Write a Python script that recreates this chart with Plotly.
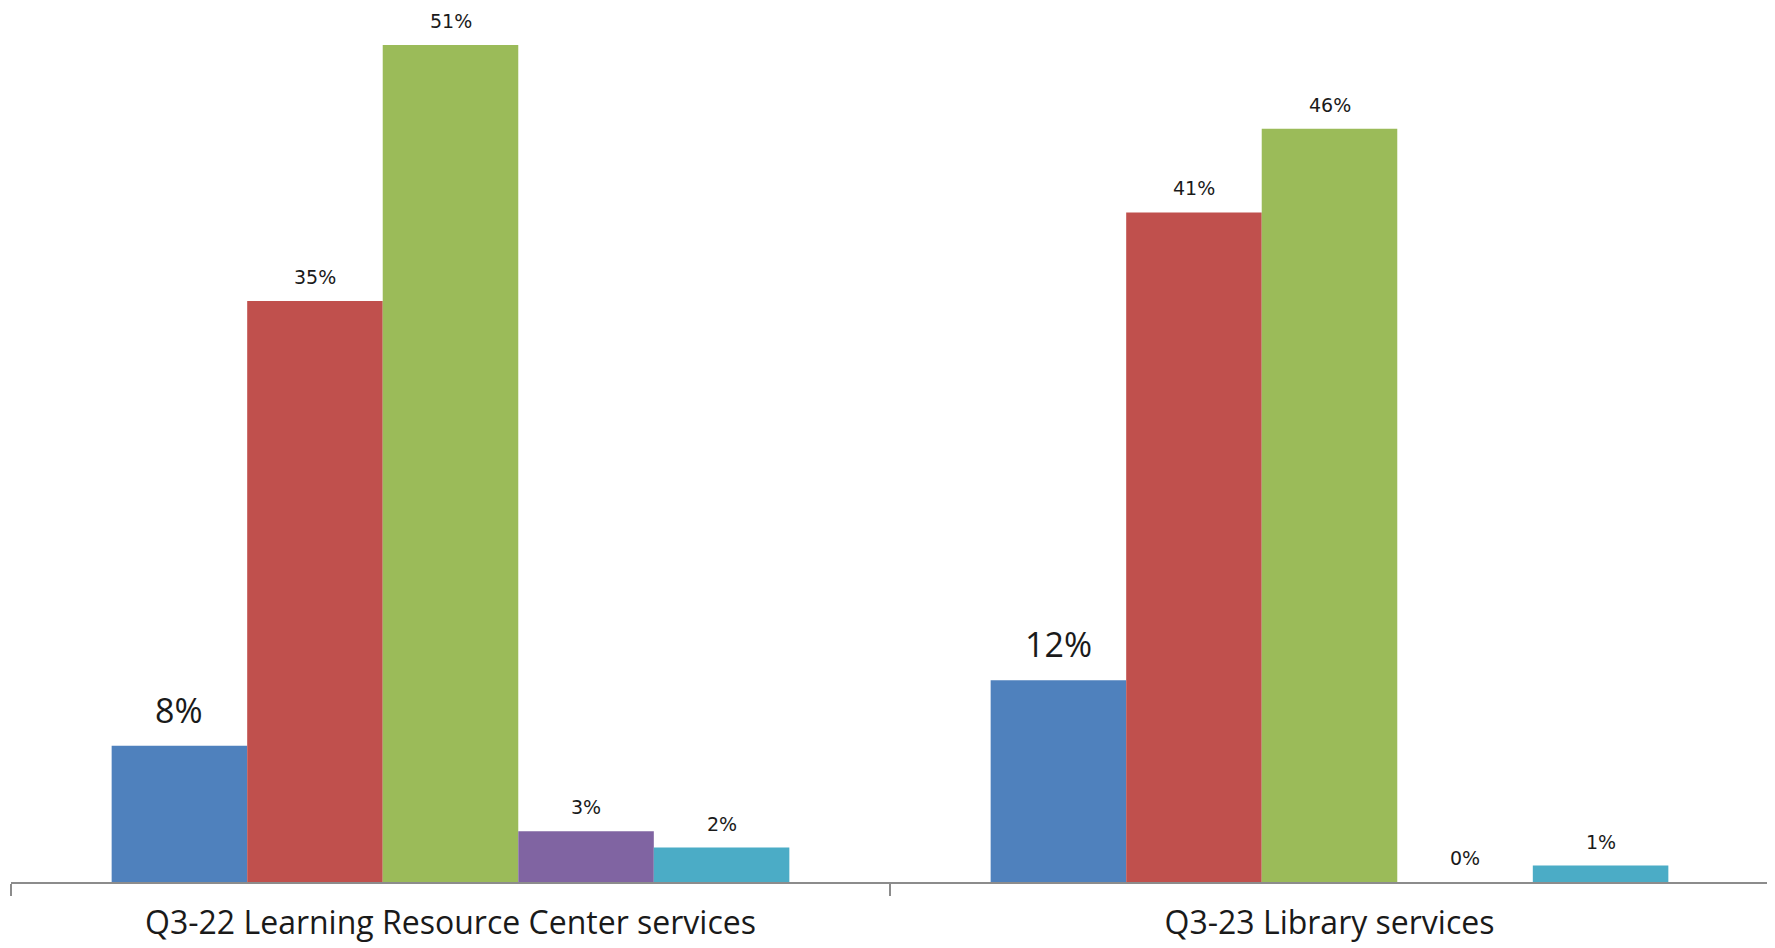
import plotly.graph_objects as go

categories = ["Q3-22 Learning Resource Center services", "Q3-23 Library services"]
series_names = ["Series 1", "Series 2", "Series 3", "Series 4", "Series 5"]
series_values = [
    [8.3, 12.3],
    [35.4, 40.8],
    [51.0, 45.9],
    [3.1, 0.0],
    [2.1, 1.0],
]
colors = ["#4F81BD", "#C0504D", "#9BBB59", "#8064A2", "#4BACC6"]

BARGAP = 0.229
n = len(series_values)
bar_w = (1 - BARGAP) / n

fig = go.Figure()
annotations = []
for j, (name, vals) in enumerate(zip(series_names, series_values)):
    big = j == 0
    fig.add_trace(go.Bar(
        x=categories, y=vals, name=name,
        marker=dict(color=colors[j], line=dict(width=0)),
        hovertemplate="%{x}<br>" + name + ": %{y:.0f}%<extra></extra>",
    ))
    for i, v in enumerate(vals):
        annotations.append(dict(
            x=i + (j - (n - 1) / 2) * bar_w, y=v, xref="x", yref="y",
            text=f"{v:.0f}%", showarrow=False, yanchor="bottom", yshift=11,
            font=dict(family="Open Sans" if big else "DejaVu Sans",
                      size=34 if big else 19, color="#1a1a1a"),
        ))

fig.update_layout(
    width=1767, height=940,
    margin=dict(l=3, r=6, t=0, b=66),
    paper_bgcolor="white", plot_bgcolor="white",
    barmode="group", bargap=BARGAP, bargroupgap=0,
    showlegend=False,
    annotations=annotations,
    xaxis=dict(
        type="category", showline=True, linecolor="#8C8C8C", linewidth=1.5,
        ticks="outside", tickson="boundaries", ticklen=12, tickcolor="#8C8C8C",
        tickwidth=1.5, ticklabelstandoff=12,
        tickfont=dict(family="Open Sans", size=32, color="#1a1a1a"),
        showgrid=False, zeroline=False, automargin=False,
    ),
    yaxis=dict(range=[0, 53.26], visible=False, showgrid=False, zeroline=False),
)

fig.write_html("out.html")
